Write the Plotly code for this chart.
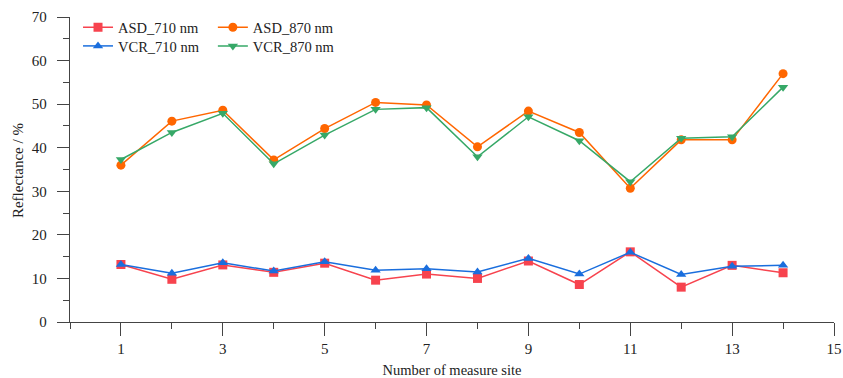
import plotly.graph_objects as go

sites = list(range(1, 15))
asd_710 = [13.2, 9.8, 13.1, 11.4, 13.5, 9.6, 11.0, 10.0, 14.0, 8.6, 16.1, 8.0, 13.0, 11.3]
vcr_710 = [13.2, 11.2, 13.6, 11.7, 13.8, 11.9, 12.2, 11.5, 14.6, 11.0, 16.0, 10.9, 12.8, 13.0]
asd_870 = [36.0, 46.1, 48.6, 37.2, 44.4, 50.4, 49.8, 40.2, 48.4, 43.5, 30.7, 41.8, 41.8, 57.0]
vcr_870 = [37.3, 43.5, 47.9, 36.3, 42.9, 48.8, 49.2, 37.9, 47.1, 41.6, 32.2, 42.2, 42.5, 53.9]

series = [
    ("ASD_710 nm", asd_710, "#F7434E", "square", "legend"),
    ("ASD_870 nm", asd_870, "#FF6600", "circle", "legend2"),
    ("VCR_710 nm", vcr_710, "#1A6EDD", "triangle-up", "legend3"),
    ("VCR_870 nm", vcr_870, "#36A867", "triangle-down", "legend4"),
]

fig = go.Figure()
for name, vals, color, sym, leg in series:
    fig.add_trace(go.Scatter(
        x=sites, y=vals, name=name, mode="lines+markers",
        line=dict(color=color, width=1.5),
        marker=dict(symbol=sym, size=9, color=color),
        legend=leg,
    ))

serif = "Liberation Serif, Times New Roman, serif"
font = dict(family=serif, size=15, color="#222")
legfont = dict(family=serif, size=14.5, color="#222")

def leg(x, y):
    return dict(orientation="v", x=x, y=y, xanchor="left", yanchor="middle",
                font=legfont, bgcolor="rgba(0,0,0,0)", itemwidth=30)

fig.update_layout(
    width=843, height=378,
    margin=dict(l=70, r=9, t=17, b=56),
    plot_bgcolor="white", paper_bgcolor="white",
    font=font,
    showlegend=True,
    legend=leg(0.0105, 0.966),
    legend2=leg(0.187, 0.966),
    legend3=leg(0.0105, 0.905),
    legend4=leg(0.187, 0.905),
    xaxis=dict(
        range=[0, 15], tick0=1, dtick=2, ticks="outside", ticklen=13, tickwidth=1.3,
        tickcolor="#444", showline=True, linecolor="#444", linewidth=1.3,
        showgrid=False, zeroline=False, automargin=False, ticklabeloverflow="allow",
        minor=dict(dtick=1, tick0=0, ticks="outside", ticklen=6, tickwidth=1.3, tickcolor="#444"),
        title=dict(text="Number of measure site", font=dict(family=serif, size=14.5, color="#222")),
        tickfont=font,
    ),
    yaxis=dict(
        range=[0, 70], dtick=10, ticks="outside", ticklen=12, tickwidth=1.3,
        tickcolor="#444", showline=True, linecolor="#444", linewidth=1.3,
        showgrid=False, zeroline=False, automargin=False, ticklabelstandoff=7,
        minor=dict(dtick=5, ticks="outside", ticklen=6, tickwidth=1.3, tickcolor="#444"),
        tickfont=font,
    ),
    annotations=[dict(
        text="Reflectance / %", textangle=-90, xref="paper", yref="paper",
        x=-0.068, y=0.495, xanchor="center", yanchor="middle", showarrow=False, font=font,
    )],
)

fig.write_html(
    "out.html",
    config={"displayModeBar": False},
    post_script="document.body.style.margin='0';document.body.style.overflow='hidden';",
)
